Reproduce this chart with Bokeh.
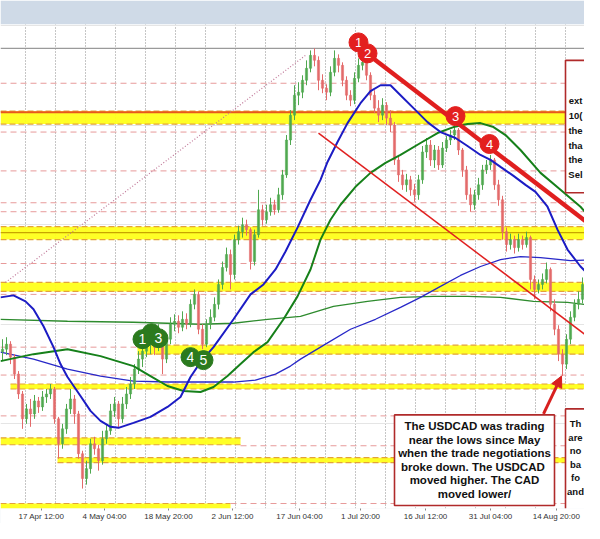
from bokeh.plotting import figure
from bokeh.models import ColumnDataSource, Range1d, FixedTicker, Arrow, NormalHead
from bokeh.core.properties import value
from bokeh.embed import file_html
from bokeh.resources import INLINE

# ---------------- data ----------------
# USDCAD 4-hour candles, prices in pips (1.2750 -> 12750), one candle every 4 time units
bar_x = list(range(2, 600, 4))
close = [
    12750, 12760, 12734, 12700, 12660, 12610, 12630, 12620, 12646, 12634,
    12654, 12660, 12670, 12610, 12560, 12590, 12630, 12650, 12620, 12540,
    12490, 12510, 12560, 12550, 12526, 12570, 12586, 12626, 12640, 12610,
    12640, 12660, 12680, 12710, 12730, 12746, 12760, 12770, 12754, 12780,
    12730, 12770, 12800, 12806, 12794, 12810, 12800, 12840, 12860, 12790,
    12760, 12800, 12814, 12840, 12880, 12914, 12940, 12900, 12970, 12986,
    13000, 12990, 12926, 12980, 13030, 13010, 13026, 13040, 13030, 13060,
    13100, 13170, 13220, 13260, 13266, 13290, 13314, 13340, 13330, 13290,
    13274, 13266, 13306, 13334, 13320, 13290, 13260, 13250, 13294, 13320,
    13326, 13300, 13260, 13234, 13220, 13240, 13214, 13200, 13130, 13100,
    13080, 13090, 13070, 13060, 13090, 13146, 13160, 13130, 13150, 13120,
    13154, 13170, 13180, 13190, 13150, 13110, 13060, 13040, 13060, 13080,
    13110, 13120, 13130, 13080, 13050, 12986, 12960, 12970, 12954, 12970,
    12960, 12974, 12890, 12870, 12880, 12890, 12910, 12840, 12790, 12740,
    12720, 12770, 12814, 12840, 12850, 12880, 12880, 12866, 12900, 12886]
high = [
    12770, 12774, 12766, 12740, 12706, 12666, 12640, 12650, 12658, 12654,
    12666, 12670, 12680, 12674, 12614, 12600, 12640, 12670, 12658, 12626,
    12546, 12526, 12570, 12574, 12558, 12586, 12600, 12640, 12654, 12646,
    12654, 12674, 12694, 12720, 12746, 12760, 12780, 12790, 12780, 12800,
    12790, 12780, 12814, 12820, 12818, 12826, 12822, 12850, 12870, 12866,
    12800, 12810, 12830, 12854, 12890, 12926, 12954, 12950, 12980, 12998,
    13014, 13010, 12994, 12990, 13070, 13040, 13040, 13054, 13050, 13074,
    13110, 13180, 13230, 13280, 13286, 13300, 13330, 13350, 13354, 13338,
    13302, 13282, 13318, 13350, 13342, 13326, 13298, 13270, 13306, 13334,
    13340, 13334, 13306, 13270, 13250, 13254, 13246, 13230, 13206, 13140,
    13110, 13102, 13098, 13082, 13100, 13158, 13174, 13170, 13160, 13158,
    13166, 13178, 13190, 13200, 13194, 13154, 13118, 13074, 13070, 13094,
    13120, 13130, 13140, 13134, 13090, 13058, 12994, 12982, 12978, 12982,
    12978, 12986, 12978, 12898, 12890, 12902, 12924, 12914, 12850, 12798,
    12750, 12780, 12826, 12850, 12866, 12894, 12894, 12890, 12924, 12910]
low = [
    12726, 12738, 12720, 12690, 12650, 12590, 12600, 12594, 12610, 12622,
    12626, 12642, 12650, 12600, 12530, 12550, 12580, 12620, 12600, 12530,
    12470, 12478, 12500, 12538, 12506, 12518, 12560, 12578, 12614, 12594,
    12602, 12630, 12650, 12670, 12700, 12714, 12734, 12740, 12738, 12746,
    12700, 12722, 12760, 12786, 12782, 12786, 12790, 12794, 12830, 12780,
    12750, 12754, 12790, 12806, 12830, 12870, 12906, 12870, 12890, 12960,
    12974, 12978, 12910, 12918, 12974, 12998, 13002, 13018, 13020, 13024,
    13050, 13094, 13160, 13210, 13240, 13254, 13280, 13306, 13318, 13270,
    13264, 13250, 13258, 13298, 13306, 13278, 13250, 13238, 13242, 13286,
    13310, 13290, 13250, 13224, 13206, 13210, 13200, 13186, 13120, 13086,
    13070, 13066, 13058, 13046, 13050, 13082, 13134, 13118, 13114, 13110,
    13114, 13146, 13160, 13170, 13140, 13096, 13050, 13026, 13030, 13050,
    13070, 13102, 13110, 13070, 13038, 12970, 12946, 12950, 12942, 12946,
    12950, 12954, 12870, 12850, 12862, 12870, 12882, 12826, 12778, 12726,
    12696, 12710, 12760, 12806, 12830, 12842, 12866, 12844, 12858, 12870]
first_open = 12745

# moving averages
ma100_x = [0, 13, 25, 33, 43, 53, 60, 67, 80, 90, 100, 110, 118, 133, 150, 167, 180, 190, 200, 213,
           233, 250, 263, 275, 285, 297, 310, 320, 327, 337, 347, 360, 370, 380, 390, 400, 413, 427, 440, 455,
           467, 480, 490, 500, 513, 525, 535, 547, 557, 567, 580, 593, 600]
ma100 = [12854, 12858, 12846, 12830, 12796, 12754, 12720, 12694, 12656, 12626,
         12606, 12594, 12592, 12602, 12614, 12634, 12654, 12694, 12724, 12754,
         12810, 12860, 12880, 12910, 12946, 12994, 13050, 13090, 13126, 13166,
         13204, 13244, 13268, 13280, 13280, 13260, 13234, 13206, 13186, 13174,
         13158, 13140, 13130, 13116, 13098, 13080, 13066, 13036, 12990, 12950,
         12916, 12890, 12876]
ma200_x = [0, 33, 67, 100, 133, 150, 167, 183, 200, 213, 227, 240, 253, 267, 283, 297, 310, 320, 330, 340,
           355, 370, 385, 400, 420, 437, 453, 467, 480, 493, 505, 520, 540, 560, 580, 600]
ma200 = [12726, 12740, 12750, 12736, 12716, 12696, 12676, 12666, 12664, 12674,
         12696, 12720, 12744, 12764, 12810, 12856, 12910, 12970, 13010, 13040,
         13076, 13104, 13124, 13140, 13164, 13184, 13196, 13202, 13204, 13196,
         13180, 13150, 13104, 13070, 13036, 12990]
dma100_x = [0, 33, 67, 100, 133, 167, 200, 233, 255, 275, 290, 300, 325, 350, 375, 400, 420, 440, 460, 480,
            500, 520, 540, 570, 600]
dma100 = [12744, 12730, 12710, 12696, 12686, 12684, 12684, 12684, 12688, 12700,
          12716, 12730, 12760, 12790, 12810, 12834, 12854, 12876, 12898, 12916,
          12930, 12936, 12934, 12928, 12930]
dma200_x = [0, 67, 133, 200, 233, 267, 300, 333, 367, 400, 433, 467, 500, 533, 567, 600]
dma200 = [12810, 12806, 12804, 12800, 12802, 12810, 12816, 12836, 12846, 12854, 12856, 12856, 12854, 12846,
          12844, 12836]

# yellow support / resistance zones
zone_top = [13228, 12996, 12884, 12758, 12680, 12572, 12532, 12440]
zone_bottom = [13202, 12970, 12866, 12740, 12670, 12558, 12522, 12428]
zone_start = [0, 0, 0, 137, 10, 0, 57, 0]
zone_end = [600, 600, 600, 600, 600, 240, 600, 230]

# dashed reference levels
level_y = [13284, 13186, 13108, 13044, 13026, 12922, 12860, 12754, 12698, 12616, 12556, 12440, 12428]
level_start = [0, 0, 0, 0, 0, 0, 0, 0, 0, 0, 240, 230, 230]
level_end = [600, 600, 600, 600, 600, 600, 600, 137, 600, 600, 600, 600, 600]
high_level = 13354
key_level = 13226
mid_level = 12984

# trend lines
trend_x = [352, 600]
trend_y = [13366, 12984]
channel_x = [318, 600]
channel_y = [13184, 12756]
dotted_x = [5, 305]
dotted_y = [12884, 13340]

# numbered markers
red_x = [358, 367, 455, 489]
red_y = [13366, 13344, 13218, 13162]
red_lab = ["1", "2", "3", "4"]
green_x = [151, 142, 158, 190, 203]
green_y = [12782, 12770, 12772, 12734, 12728]
green_lab = ["", "1", "3", "4", "5"]

# x axis
tick_pos = [41, 104, 168, 232, 299, 360, 425, 490, 556]
tick_lab = ["17 Apr 12:00", "4 May 04:00", "18 May 20:00", "2 Jun 12:00", "17 Jun 04:00",
            "1 Jul 20:00", "16 Jul 12:00", "31 Jul 04:00", "14 Aug 20:00"]
grid_pos = list(range(25, 600, 30))

# text boxes
box1_lines = ["The USDCAD was trading", "near the lows since May", "when the trade negotiations",
              "broke down.  The USDCAD", "moved higher. The CAD", "moved lower/"]
box1_y = [12596, 12568, 12542, 12514, 12488, 12460]
box2_lines = ["Th", "are", "no", "ba", "fo", "and"]
box2_y = [12600, 12572, 12546, 12518, 12492, 12464]
box3_lines = ["ext", "10(", "the", "tha", "the", "Sel"]
box3_y = [13250, 13220, 13190, 13160, 13130, 13100]
side_text_x = 575
box_left = [394, 565, 565]
box_right = [554, 720, 720]
box_top = [12618, 12630, 13330]
box_bottom = [12436, 12416, 13064]

# ---------------- figure ----------------
p = figure(width=584, height=523, x_range=Range1d(0, 584), y_range=Range1d(12430, 13402),
           output_backend="svg", toolbar_location=None, y_axis_location=None,
           min_border_left=0, min_border_right=0, min_border_top=24, min_border_bottom=13,
           background_fill_color="white", border_fill_color="#cfdae7", outline_line_color=None)

p.xgrid.ticker = FixedTicker(ticks=grid_pos)
p.xgrid.grid_line_color = "#8c8c8c"
p.xgrid.grid_line_dash = "1 2"
p.xgrid.grid_line_width = 1

ax = p.xaxis[0]
ax.ticker = FixedTicker(ticks=tick_pos)
ax.major_label_overrides = {t: l for t, l in zip(tick_pos, tick_lab)}
ax.major_label_text_font = "Liberation Sans"
ax.major_label_text_font_size = "8px"
ax.major_label_text_color = "#333333"
ax.major_label_standoff = 1
ax.major_tick_out = 2
ax.major_tick_in = 0
ax.major_tick_line_color = "#888888"
ax.minor_tick_line_color = None
ax.axis_line_color = None
try:
    ax.background_fill_color = "white"
except Exception:
    pass

# zones
p.quad(left=zone_start, right=zone_end, top=zone_top, bottom=zone_bottom,
       fill_color="#ffff1a", fill_alpha=0.95, line_color=None)
p.segment(x0=zone_start, x1=zone_end, y0=zone_top, y1=zone_top,
          line_color="#e3a23a", line_dash="6 3", line_width=1.2)
p.segment(x0=zone_start, x1=zone_end, y0=zone_bottom, y1=zone_bottom,
          line_color="#e3a23a", line_dash="6 3", line_width=1.2)

# dashed levels
p.segment(x0=level_start, x1=level_end, y0=level_y, y1=level_y,
          line_color="#e79a9a", line_dash="6 4", line_width=1)
p.segment(x0=[0], x1=[600], y0=[high_level], y1=[high_level], line_color="#9a9a9a", line_width=1.2)
p.segment(x0=[0], x1=[600], y0=[key_level], y1=[key_level], line_color="#e8561e", line_width=2)
p.segment(x0=[0], x1=[600], y0=[mid_level], y1=[mid_level], line_color="#c8a400", line_width=1.2)

# dotted diagonal
p.line(dotted_x, dotted_y, line_color="#c07898", line_dash="1 2", line_width=1.2)

# long moving averages
p.line(dma200_x, dma200, line_color="#2e8b2e", line_width=1.3)
p.line(dma100_x, dma100, line_color="#2828c8", line_width=1.3)

# candles
opens = [first_open] + close[:-1]
tops, bots, cols, his, los = [], [], [], [], []
for o, c, h, l in zip(opens, close, high, low):
    tops.append(max(o, c))
    bots.append(min(o, c))
    his.append(max(h, o, c))
    los.append(min(l, o, c))
    cols.append("#4fa84f" if c >= o else "#e36a6a")
src = ColumnDataSource(dict(x=bar_x, top=tops, bottom=bots, high=his, low=los, color=cols))
p.segment(x0="x", x1="x", y0="high", y1="low", line_color="color", line_width=1, source=src)
p.vbar(x="x", width=2.2, top="top", bottom="bottom", fill_color="color", line_color="color",
       line_width=0.5, source=src)

# short moving averages
p.line(ma200_x, ma200, line_color="#16801a", line_width=2)
p.line(ma100_x, ma100, line_color="#1c1cc4", line_width=2)

# trend lines
p.line(channel_x, channel_y, line_color="#e02020", line_width=1.5)
p.line(trend_x, trend_y, line_color="#e01f1f", line_width=4.5)

# red markers (drawn one by one so later ones overlap earlier)
for x, y, t in zip(red_x, red_y, red_lab):
    p.scatter([x], [y], size=19, marker="circle", fill_color="#e3201f", line_color="#e3201f")
    p.text([x], [y], text=[t], text_color="white", text_align="center", text_baseline="middle",
           text_font=value("Liberation Sans"), text_font_size="13px")

for x, y, t in zip(green_x, green_y, green_lab):
    p.scatter([x], [y], size=19, marker="circle", fill_color="#2b7a1e", line_color="#2b7a1e")
    if t:
        p.text([x], [y], text=[t], text_color="white", text_align="center", text_baseline="middle",
               text_font=value("Liberation Sans"), text_font_size="14px")

# boxes
p.quad(left=box_left, right=box_right, top=box_top, bottom=box_bottom,
       fill_color="white", line_color="#b02a2a", line_width=1.6)

bx = (box_left[0] + box_right[0]) / 2
p.text([bx] * len(box1_lines), box1_y, text=box1_lines, text_align="center", text_baseline="middle",
       text_font=value("Liberation Sans"), text_font_style="bold", text_font_size="11.5px",
       text_color="#111111")
p.text([side_text_x] * len(box2_lines), box2_y, text=box2_lines, text_align="center",
       text_baseline="middle", text_font=value("Liberation Sans"), text_font_style="bold",
       text_font_size="9.5px", text_color="#111111")
p.text([side_text_x] * len(box3_lines), box3_y, text=box3_lines, text_align="center",
       text_baseline="middle", text_font=value("Liberation Sans"), text_font_style="bold",
       text_font_size="9.5px", text_color="#111111")

# arrow
p.add_layout(Arrow(end=NormalHead(size=11, fill_color="#d8201f", line_color="#d8201f"),
                   x_start=543, y_start=12620, x_end=561, y_end=12696,
                   line_color="#d8201f", line_width=3))

open("out.html", "w").write(file_html(p, INLINE))
